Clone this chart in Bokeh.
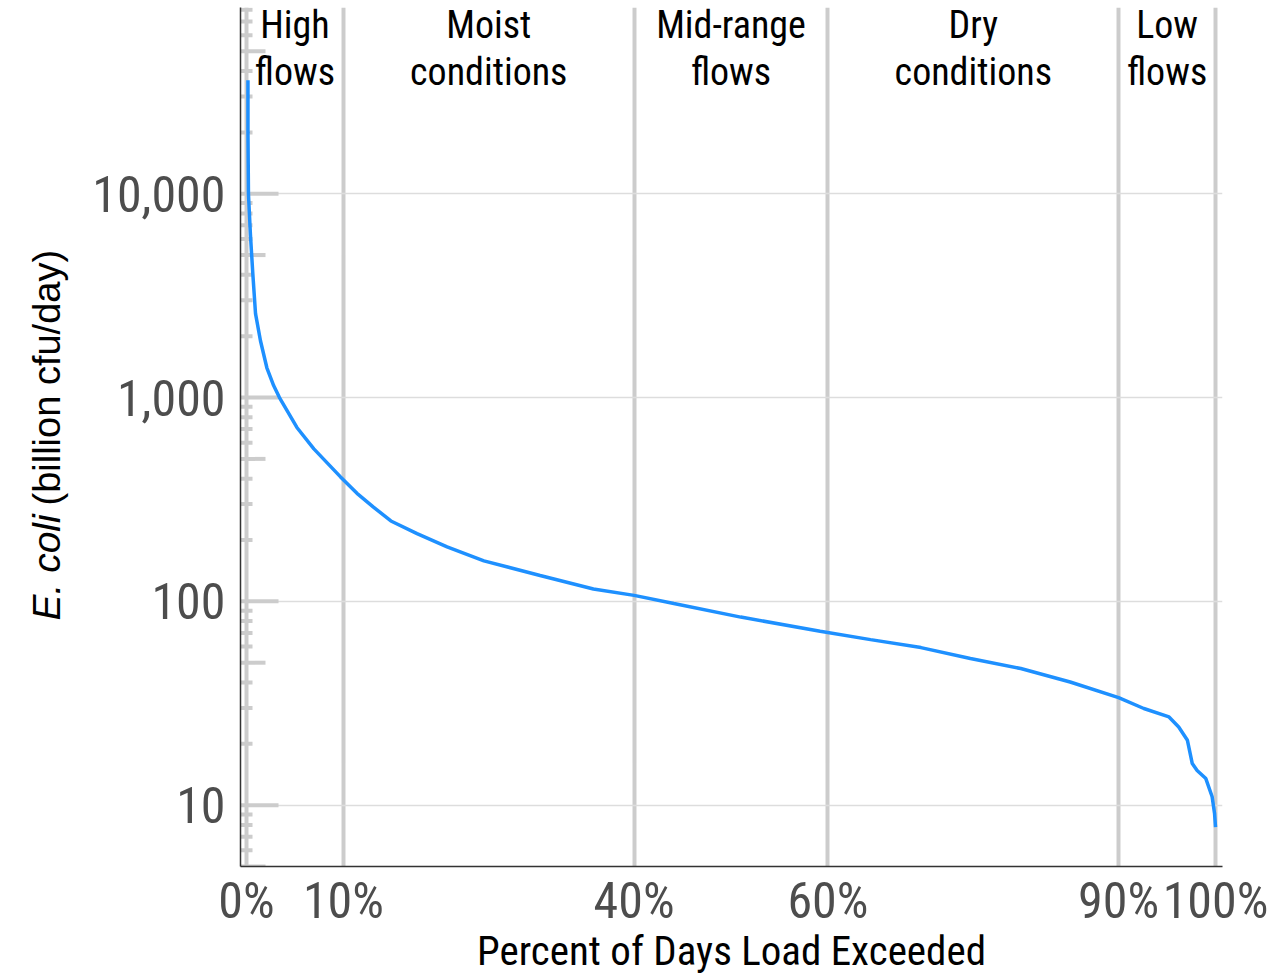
import math
from bokeh.plotting import figure
from bokeh.layouts import row
from bokeh.models import Range1d, FixedTicker
from bokeh.embed import file_html
from bokeh.resources import INLINE
from bokeh.core.properties import value

# ---- data ----
pct_exceeded = [0.15, 0.15, 0.2, 0.4, 0.65, 0.93, 1.44, 2.1, 2.8, 3.4, 5.2, 6.95, 9.7,
                11.4, 13.1, 14.9, 17.6, 20.7, 24.5, 30.3, 35.8, 40.0, 44.1, 51.0,
                59.2, 64.4, 69.6, 74.7, 79.9, 85.0, 90.0, 92.6, 95.2, 96.2, 97.1,
                97.6, 98.1, 99.0, 99.65, 99.9, 100.0]
ecoli_load = [36000, 20000, 10000, 6350, 4060, 2580, 1900, 1400, 1145, 1000, 713, 560, 408,
              339, 290, 248, 215, 185, 158, 134, 115, 107, 97.5, 83.7,
              71.4, 64.9, 59.3, 52.4, 46.8, 40.2, 33.7, 29.8, 27.1, 24.2, 20.8,
              16.0, 14.8, 13.5, 11.0, 9.1, 7.8]

zone_bounds = [0, 10, 40, 60, 90, 100]
zone_line1 = ["High", "Moist", "Mid-range", "Dry", "Low"]
zone_line2 = ["flows", "conditions", "flows", "conditions", "flows"]
x_tick_labels = ["0%", "10%", "40%", "60%", "90%", "100%"]
y_ticks = [10, 100, 1000, 10000]
y_tick_labels = ["10", "100", "1,000", "10,000"]
x_title = "Percent of Days Load Exceeded"
y_title_italic = "E. coli"
y_title_rest = "(billion cfu/day)"

X_START, X_END = -0.62, 100.72
Y_START, Y_END = 5, 82000

TICK_FONT = "Roboto Condensed, Roboto"
GRAY = "#cccccc"
W, H = 1281, 978
LABEL_W = 70
FRAME_TOP, FRAME_BOTTOM = 7, 866   # pixel rows of the plotting frame

# ---- narrow panel carrying the rotated y-axis title ----
ylab = figure(width=LABEL_W, height=H, x_range=Range1d(0, LABEL_W),
              y_range=Range1d(H - FRAME_BOTTOM, H - FRAME_TOP),
              output_backend="svg", toolbar_location=None,
              x_axis_location=None, y_axis_location=None,
              min_border_left=0, min_border_right=0,
              min_border_top=FRAME_TOP, min_border_bottom=H - FRAME_BOTTOM)
ylab.grid.visible = False
ylab.outline_line_color = None
ylab.text(x=[46], y=[H - 620], text=[y_title_italic], angle=math.pi / 2,
          text_align="left", text_baseline="alphabetic",
          text_font=value("Liberation Sans"), text_font_style="italic",
          text_font_size="39px", text_color="black")
ylab.text(x=[46], y=[H - 505], text=[y_title_rest], angle=math.pi / 2,
          text_align="left", text_baseline="alphabetic",
          text_font=value("Liberation Sans"), text_font_style="normal",
          text_font_size="38px", text_color="black")

# ---- main chart ----
p = figure(width=W - LABEL_W, height=H,
           x_range=Range1d(X_START, X_END), y_range=Range1d(Y_START, Y_END),
           y_axis_type="log", output_backend="svg", toolbar_location=None,
           min_border_left=240 - LABEL_W, min_border_right=59,
           min_border_top=FRAME_TOP, min_border_bottom=H - FRAME_BOTTOM)
p.outline_line_color = None
p.background_fill_color = "white"
p.border_fill_color = "white"

# axes
p.xaxis.ticker = FixedTicker(ticks=zone_bounds)
p.xaxis.major_label_overrides = {t: s for t, s in zip(zone_bounds, x_tick_labels)}
p.yaxis.ticker = FixedTicker(ticks=y_ticks)
p.yaxis.major_label_overrides = {t: s for t, s in zip(y_ticks, y_tick_labels)}
for ax in (p.xaxis[0], p.yaxis[0]):
    ax.axis_line_color = "#333333"
    ax.axis_line_width = 1.5
    ax.major_tick_line_color = None
    ax.minor_tick_line_color = None
    ax.major_tick_in = 0
    ax.major_tick_out = 0
    ax.major_label_text_font = TICK_FONT
    ax.major_label_text_font_size = "50px"
    ax.major_label_text_color = "#4d4d4d"
p.xaxis.major_label_standoff = 5
p.yaxis.major_label_standoff = 15
p.xaxis.axis_label = x_title
p.xaxis.axis_label_text_font = TICK_FONT
p.xaxis.axis_label_text_font_size = "41px"
p.xaxis.axis_label_text_font_style = "normal"
p.xaxis.axis_label_text_color = "black"
p.xaxis.axis_label_standoff = -6

# grids
p.xgrid.grid_line_color = GRAY
p.xgrid.grid_line_width = 4
p.ygrid.grid_line_color = "#dddddd"
p.ygrid.grid_line_width = 1.5

# custom inner ticks on the log axis (decade / half-decade / minor)
decades = [10 ** k for k in range(0, 5)]
minor_ticks = [m * d for d in decades for m in range(2, 10)
               if Y_START <= m * d <= Y_END and m != 5]
half_ticks = [5 * d for d in decades if Y_START <= 5 * d <= Y_END]
for ticks, length in ((minor_ticks, 12), (half_ticks, 25), (y_ticks, 38)):
    p.ray(x=[X_START] * len(ticks), y=ticks, length=length, length_units="screen",
          angle=0, line_color=GRAY, line_width=4, line_cap="butt")

# load duration curve
p.line(pct_exceeded, ecoli_load, line_color="#1e90ff", line_width=3.5)

# zone labels
zone_centers = [(a + b) / 2 for a, b in zip(zone_bounds[:-1], zone_bounds[1:])]
for lines, off in ((zone_line1, 17), (zone_line2, 64)):
    p.text(x=zone_centers, y=[Y_END] * len(zone_centers), text=lines,
           y_offset=off, text_align="center", text_baseline="alphabetic",
           text_font=value(TICK_FONT), text_font_size="38px", text_color="black")

layout = row(ylab, p, spacing=0)
open("out.html", "w").write(file_html(layout, INLINE))
